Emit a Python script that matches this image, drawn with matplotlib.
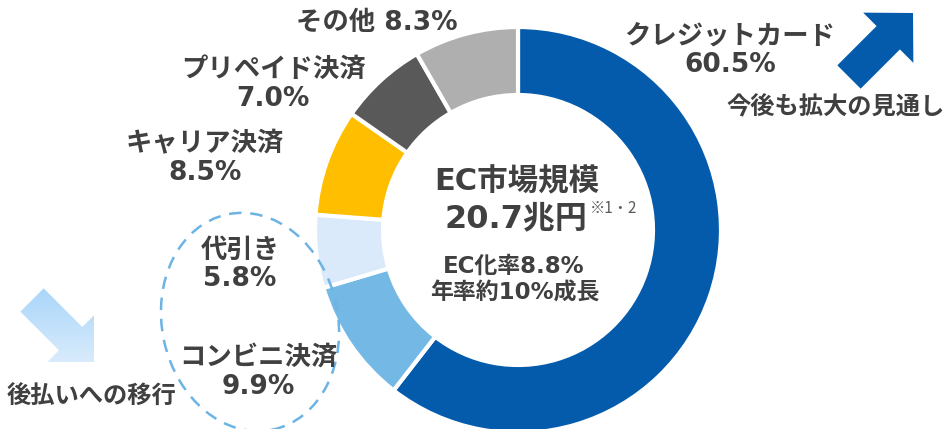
import numpy as np
import matplotlib
matplotlib.use('Agg')
import matplotlib.pyplot as plt
import matplotlib.patches as mpatches
from matplotlib.colors import LinearSegmentedColormap

# DejaVu for the latin/digits (wide, like Meiryo), Noto CJK for Japanese
plt.rcParams['font.family'] = ['DejaVu Sans', 'Noto Sans CJK JP']

# data (clockwise from 12 o'clock)
labels = ['クレジットカード', 'コンビニ決済', '代引き', 'キャリア決済', 'プリペイド決済', 'その他']
shares = [60.5, 9.9, 5.8, 8.5, 7.0, 8.3]
colors = ['#055bab', '#74b9e6', '#daeafa', '#ffbf00', '#5a595a', '#afafaf']

W, H = 945, 429
TXT = '#404040'


def Y(y):
    # pixel row (from top) -> data y
    return H - y


fig = plt.figure(figsize=(9.45, 4.29), dpi=100)
ax = fig.add_axes([0, 0, 1, 1])

cx, cy, r_out, r_in = 518, 230, 203, 135
ax.pie(shares, colors=colors, startangle=90, counterclock=False,
       center=(cx, Y(cy)), radius=r_out, frame=True,
       wedgeprops=dict(width=r_out - r_in, edgecolor='white', linewidth=3))

# centre text
ax.text(517, Y(182), 'EC市場規模', ha='center', va='center', fontsize=22, fontweight='bold', color=TXT)
ax.text(516, Y(219), '20.7兆円', ha='center', va='center', fontsize=23, fontweight='bold', color=TXT)
ax.text(614, Y(208), '※1・2', ha='center', va='center', fontsize=11,
        family=['Noto Sans CJK JP', 'DejaVu Sans'], color='#595959')
ax.text(514, Y(266), 'EC化率8.8%', ha='center', va='center', fontsize=16.5, fontweight='bold', color=TXT)
ax.text(515, Y(293), '年率約10%成長', ha='center', va='center', fontsize=16.5, fontweight='bold', color=TXT)

# slice labels
lab_kw = dict(ha='center', va='center', fontsize=19, fontweight='bold', color=TXT, linespacing=1.15)
ax.text(730, Y(51), f'{labels[0]}\n{shares[0]:.1f}%', **lab_kw)
ax.text(258, Y(372), f'{labels[1]}\n{shares[1]:.1f}%', **lab_kw)
ax.text(240, Y(265), f'{labels[2]}\n{shares[2]:.1f}%', **lab_kw)
ax.text(205, Y(159), f'{labels[3]}\n{shares[3]:.1f}%', **lab_kw)
ax.text(273, Y(84), f'{labels[4]}\n{shares[4]:.1f}%', **lab_kw)
ax.text(377, Y(23), f'{labels[5]} {shares[5]:.1f}%', **lab_kw)

# notes
ax.text(836, Y(107), '今後も拡大の見通し', ha='center', va='center', fontsize=17.5, fontweight='bold', color=TXT)
ax.text(92, Y(397), '後払いへの移行', ha='center', va='center', fontsize=17.5, fontweight='bold', color=TXT)

# dashed ellipse around deferred-payment methods
ell = mpatches.Ellipse((250, Y(322)), 176, 220, angle=12, fill=False,
                       edgecolor='#6cb4e4', linewidth=1.8, linestyle=(0, (5, 3.5)))
ax.add_patch(ell)

# up arrow (dark blue)
up = mpatches.FancyArrow(849, Y(77), 64, 64, width=33, head_width=71, head_length=35,
                         length_includes_head=True, color='#055bab', linewidth=0)
ax.add_patch(up)

# down arrow (light blue gradient)
dn = mpatches.FancyArrow(32, Y(300), 62, -62, width=33, head_width=66, head_length=33,
                         length_includes_head=True, facecolor='none', edgecolor='none')
ax.add_patch(dn)
cmap = LinearSegmentedColormap.from_list('lb', ['#dcedfc', '#a6d4fa'])
grad = np.linspace(0, 1, 100).reshape(-1, 1)
im = ax.imshow(grad, extent=(15, 100, Y(368), Y(282)), origin='lower', cmap=cmap,
               aspect='auto', zorder=2)
im.set_clip_path(dn)

ax.set_xlim(0, W)
ax.set_ylim(0, H)
ax.set_aspect('equal')
ax.axis('off')

fig.savefig('out.png', dpi=100)
